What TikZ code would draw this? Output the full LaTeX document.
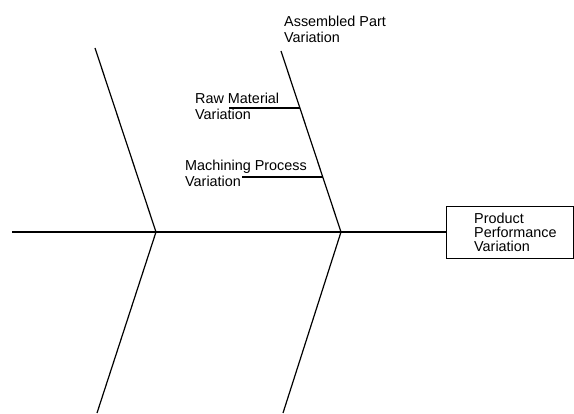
\documentclass[tikz,border=0pt]{standalone}
\usepackage{fontspec}
\setmainfont{Liberation Sans}
\usetikzlibrary{positioning,calc}

\begin{document}
\begin{tikzpicture}[x=1pt,y=-1pt]
\tikzstyle{lbl}=[inner sep=0pt,align=left,anchor=base west,font=\fontsize{14.4}{16.5}\selectfont]
\tikzstyle{bone}=[line width=1.2pt]
\tikzstyle{spine}=[line width=1.8pt]
\useasboundingbox (0,0) rectangle (574,414);
% effect box
\node[draw,line width=0.9pt,minimum width=127pt,minimum height=52pt,anchor=west,inner sep=0pt] (effect) at (446,232) {};
\node[lbl,font=\fontsize{14.4}{14}\selectfont] (effecttxt) at (474,252) {Product\\Performance\\Variation};
% spine and joints
\coordinate (tail) at (12,232);
\coordinate (j1) at (156,232);
\coordinate (j2) at (341,232);
\draw[spine] (tail) -- (effect.west);
% bones
\coordinate (ul) at (95,48);
\coordinate (ll) at (97,413);
\coordinate (ur) at (281,51);
\coordinate (lr) at (283,413);
\draw[bone] (ul) -- (j1) -- (ll);
\draw[bone] (ur) -- (j2) -- (lr);
% causes
\node[lbl] (assembled) at (284,43) {Assembled Part\\Variation};
\node[lbl] (raw) at (195,120) {Raw Material\\Variation};
\node[lbl] (machining) at (185,187) {Machining Process\\Variation};
\coordinate (rawend) at (229,108);
\coordinate (rawjoint) at (300,108);
\coordinate (macend) at (242,177);
\coordinate (macjoint) at (323,177);
\draw[bone] (rawend) -- (rawjoint);
\draw[bone] (macend) -- (macjoint);
\end{tikzpicture}
\end{document}
